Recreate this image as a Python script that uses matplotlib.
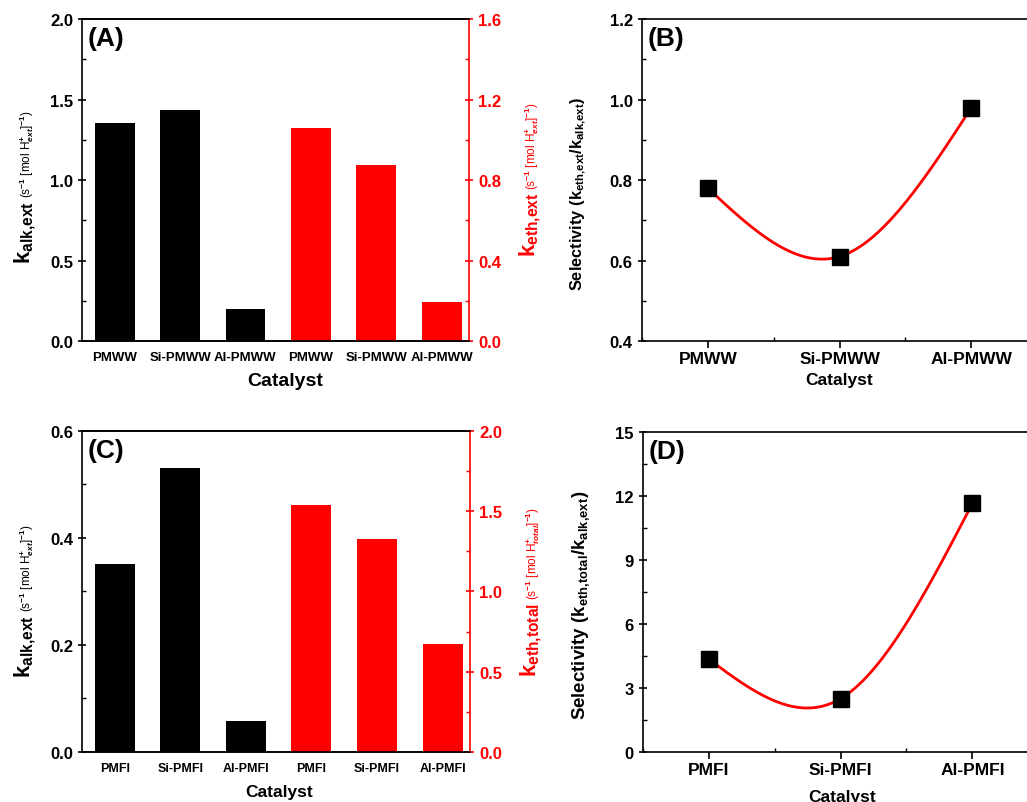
import matplotlib
matplotlib.use("Agg")
import matplotlib.pyplot as plt
from matplotlib.ticker import MultipleLocator
import numpy as np

plt.rcParams['font.family'] = ['Liberation Sans', 'DejaVu Sans']
plt.rcParams['font.weight'] = 'bold'
plt.rcParams['axes.labelweight'] = 'bold'
plt.rcParams['mathtext.fontset'] = 'custom'
plt.rcParams['mathtext.rm'] = 'Liberation Sans'
plt.rcParams['mathtext.bf'] = 'Liberation Sans:bold'
plt.rcParams['mathtext.it'] = 'Liberation Sans:italic'

# data
mww_cats = ['PMWW', 'Si-PMWW', 'Al-PMWW']
k_alk_mww = [1.355, 1.435, 0.197]
k_eth_mww = [1.058, 0.877, 0.193]
sel_mww = [0.78, 0.61, 0.98]

mfi_cats = ['PMFI', 'Si-PMFI', 'Al-PMFI']
k_alk_mfi = [0.352, 0.530, 0.057]
k_eth_mfi = [1.539, 1.327, 0.673]
sel_mfi = [4.35, 2.50, 11.65]

RED = '#ff0000'


def natural_spline(x, y, xs):
    # natural cubic spline, same look as the smooth connector in the original
    x = np.asarray(x, float)
    y = np.asarray(y, float)
    n = len(x)
    h = np.diff(x)
    A = np.zeros((n, n))
    r = np.zeros(n)
    A[0, 0] = A[-1, -1] = 1.0
    for i in range(1, n - 1):
        A[i, i - 1] = h[i - 1]
        A[i, i] = 2 * (h[i - 1] + h[i])
        A[i, i + 1] = h[i]
        r[i] = 6 * ((y[i + 1] - y[i]) / h[i] - (y[i] - y[i - 1]) / h[i - 1])
    M = np.linalg.solve(A, r)
    out = np.empty_like(xs)
    for k, t in enumerate(xs):
        i = min(max(np.searchsorted(x, t) - 1, 0), n - 2)
        a = (x[i + 1] - t) / h[i]
        b = (t - x[i]) / h[i]
        out[k] = (a * y[i] + b * y[i + 1]
                  + ((a ** 3 - a) * M[i] + (b ** 3 - b) * M[i + 1]) * h[i] ** 2 / 6)
    return out


def style_ticks(ax, color='black'):
    ax.tick_params(axis='y', which='major', direction='inout', length=6, width=1.2,
                   labelsize=12, colors=color)
    ax.tick_params(axis='y', which='minor', direction='in', length=3, width=1.0,
                   colors=color)


def split_label(fig, x, y, big, small, color):
    t = fig.text(x, y, big, rotation=90, ha='center', va='bottom',
                 fontsize=16, color=color)
    fig.axes[0].annotate(small, xy=(0.5, 1.0), xycoords=t, xytext=(1, 2),
                         textcoords='offset points', rotation=90, ha='center',
                         va='bottom', fontsize=8.5, fontweight='normal', color=color)


fig = plt.figure(figsize=(10.27, 8.03), dpi=100)


def bar_panel(rect, cats, left_vals, right_vals, lmax, lstep, rmax, rstep,
              letter, tick_fs, xl_fs, xl_coords):
    ax = fig.add_axes(rect)
    ax2 = ax.twinx()
    names = cats + cats
    pos = np.arange(len(names))
    ax.bar(pos[:3], left_vals, width=0.61, color='black')
    ax2.bar(pos[3:], right_vals, width=0.61, color=RED)
    ax.set_xlim(-0.5, 5.42)
    ax.set_ylim(0, lmax)
    ax2.set_ylim(0, rmax)
    ax.set_xticks(pos)
    ax.set_xticklabels(names, fontsize=tick_fs)
    ax.tick_params(axis='x', length=0, pad=7)
    ax.yaxis.set_major_locator(MultipleLocator(lstep))
    ax.yaxis.set_minor_locator(MultipleLocator(lstep / 2))
    ax2.yaxis.set_major_locator(MultipleLocator(rstep))
    ax2.yaxis.set_minor_locator(MultipleLocator(rstep / 2))
    style_ticks(ax)
    style_ticks(ax2, RED)
    for s in ax.spines.values():
        s.set_linewidth(1.2)
    for s in ax2.spines.values():
        s.set_linewidth(1.2)
    ax2.spines['right'].set_color(RED)
    ax2.spines['left'].set_visible(False)
    ax.spines['right'].set_visible(False)
    ax.set_xlabel('Catalyst', fontsize=xl_fs)
    ax.xaxis.set_label_coords(*xl_coords)
    ax.xaxis.label.set_va('top')
    ax.text(0.015, 0.94, letter, transform=ax.transAxes, fontsize=19,
            ha='left', va='center')
    return ax, ax2


def sel_panel(rect, cats, vals, ylim, ystep, letter, ylab, yl_fs, yl_coords,
              xl_fs, xl_coords):
    ax = fig.add_axes(rect)
    pos = np.arange(len(cats))
    xs = np.linspace(pos[0], pos[-1], 200)
    ax.plot(xs, natural_spline(pos, vals, xs), color=RED, lw=2)
    ax.plot(pos, vals, 's', color='black', ms=11)
    ax.set_xlim(-0.5, 2.5)
    ax.set_ylim(*ylim)
    ax.set_xticks(pos)
    ax.set_xticklabels(cats, fontsize=12.5)
    ax.tick_params(axis='x', which='major', pad=2)
    ax.xaxis.set_minor_locator(MultipleLocator(0.5))
    ax.yaxis.set_major_locator(MultipleLocator(ystep))
    ax.yaxis.set_minor_locator(MultipleLocator(ystep / 2))
    ax.tick_params(axis='x', which='major', direction='out', length=5, width=1.2)
    ax.tick_params(axis='x', which='minor', direction='in', length=3, width=1.0)
    style_ticks(ax)
    for s in ax.spines.values():
        s.set_linewidth(1.2)
    ax.set_ylabel(ylab, fontsize=yl_fs)
    ax.yaxis.set_label_coords(*yl_coords)
    ax.set_xlabel('Catalyst', fontsize=xl_fs)
    ax.xaxis.set_label_coords(*xl_coords)
    ax.xaxis.label.set_va('top')
    ax.text(0.015, 0.94, letter, transform=ax.transAxes, fontsize=19,
            ha='left', va='center')
    return ax


axA, axA2 = bar_panel([0.0798, 0.574, 0.377, 0.401], mww_cats, k_alk_mww, k_eth_mww,
                      2.0, 0.5, 1.6, 0.4, '(A)', 9.5, 14, (0.525, -0.096))
axC, axC2 = bar_panel([0.0798, 0.0623, 0.378, 0.400], mfi_cats, k_alk_mfi, k_eth_mfi,
                      0.6, 0.2, 2.0, 0.5, '(C)', 9, 12.5, (0.508, -0.10))

sel_panel([0.625, 0.574, 0.385, 0.401], mww_cats, sel_mww, (0.4, 1.2), 0.2, '(B)',
          r'Selectivity ($\mathbf{k_{eth{,}ext}/k_{alk{,}ext}}$)', 11.8, (-0.137, 0.46),
          12.5, (0.499, -0.097))
sel_panel([0.626, 0.0623, 0.385, 0.3985], mfi_cats, sel_mfi, (0, 15), 3, '(D)',
          r'Selectivity ($\mathbf{k_{eth{,}total}/k_{alk{,}ext}}$)', 13.4, (-0.129, 0.4625),
          12.5, (0.504, -0.116))

units_ext = r'(s$^{-1}$ [mol H$^{+}_{ext}$]$^{-1}$)'
units_tot = r'(s$^{-1}$ [mol H$^{+}_{total}$]$^{-1}$)'
split_label(fig, 25 / 1027, 1 - 264 / 803, r'$\mathbf{k_{alk{,}ext}}$', units_ext, 'black')
split_label(fig, 530 / 1027, 1 - 257 / 803, r'$\mathbf{k_{eth{,}ext}}$', units_ext, RED)
split_label(fig, 25 / 1027, 1 - 678 / 803, r'$\mathbf{k_{alk{,}ext}}$', units_ext, 'black')
split_label(fig, 531 / 1027, 1 - 677 / 803, r'$\mathbf{k_{eth{,}total}}$', units_tot, RED)

fig.savefig('out.png', dpi=100)
